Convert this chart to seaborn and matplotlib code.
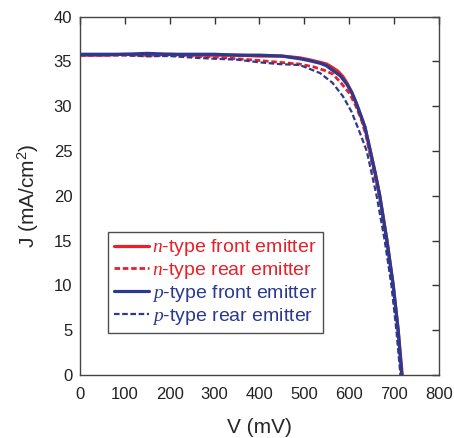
import matplotlib
matplotlib.use("Agg")
import matplotlib.pyplot as plt
import seaborn as sns
import pandas as pd

# J-V curves (V in mV, J in mA/cm2)
v_n_front = [0, 50, 100, 150, 200, 250, 300, 350, 400, 450, 490, 510, 535, 550, 563, 575, 586, 596, 606, 616, 625, 635, 647, 658, 668, 684, 698, 709, 718]
j_n_front = [35.7, 35.7, 35.8, 35.7, 35.8, 35.7, 35.7, 35.7, 35.6, 35.6, 35.4, 35.2, 34.9, 34.7, 34.3, 33.9, 33.3, 32.5, 31.5, 30.3, 29.0, 27.6, 25.0, 22.5, 20.0, 15.0, 10.0, 5.0, 0]

v_n_rear = [0, 50, 100, 150, 200, 250, 300, 350, 400, 445, 490, 520, 545, 563, 580, 601, 615, 627, 637, 646, 657, 667, 682, 696, 707, 716]
j_n_rear = [35.7, 35.7, 35.7, 35.6, 35.7, 35.6, 35.5, 35.3, 35.1, 34.9, 34.7, 34.4, 34.0, 33.6, 32.7, 31.4, 30.0, 28.5, 26.8, 24.7, 22.2, 20.0, 15.0, 10.0, 5.0, 0]

v_p_front = [0, 50, 100, 150, 200, 250, 300, 350, 400, 450, 490, 510, 535, 550, 563, 580, 594, 605, 616, 625, 635, 647, 658, 668, 684, 698, 709, 717]
j_p_front = [35.8, 35.8, 35.8, 35.9, 35.8, 35.8, 35.8, 35.7, 35.7, 35.6, 35.3, 35.1, 34.8, 34.5, 34.0, 33.4, 32.5, 31.6, 30.3, 29.1, 27.7, 25.0, 22.5, 20.0, 15.0, 10.0, 5.0, 0]

v_p_rear = [0, 50, 100, 150, 200, 260, 300, 350, 400, 445, 490, 535, 563, 586, 605, 624, 639, 650, 661, 679, 694, 705, 714]
j_p_rear = [35.7, 35.7, 35.7, 35.6, 35.6, 35.4, 35.3, 35.2, 34.9, 34.7, 34.6, 33.7, 32.6, 31.1, 29.4, 27.0, 25.0, 22.5, 20.0, 15.0, 10.0, 5.0, 0]

labels = [r"$n$-type front emitter", r"$n$-type rear emitter",
          r"$p$-type front emitter", r"$p$-type rear emitter"]

red = "#e8202a"
blue = "#2b3990"

sns.set_style("white")
plt.rcParams["font.family"] = ["Liberation Sans", "DejaVu Sans"]
plt.rcParams["mathtext.fontset"] = "custom"
plt.rcParams["mathtext.it"] = "Liberation Serif:italic"
plt.rcParams["mathtext.rm"] = "Liberation Sans"

fig = plt.figure(figsize=(4.54, 4.38), dpi=100)
ax = fig.add_axes([0.176, 0.144, 0.791, 0.818])

series = [
    (v_n_front, j_n_front, labels[0], red, "-", 2.3),
    (v_n_rear, j_n_rear, labels[1], red, (0, (2, 1)), 2.0),
    (v_p_front, j_p_front, labels[2], blue, "-", 2.3),
    (v_p_rear, j_p_rear, labels[3], blue, (0, (2.5, 1.2)), 1.6),
]
for v, j, lab, col, ls, lw in series:
    df = pd.DataFrame({"V": v, "J": j})
    sns.lineplot(data=df, x="V", y="J", ax=ax, color=col, linestyle=ls,
                 linewidth=lw, label=lab, sort=False, estimator=None)

ax.set_xlim(0, 800)
ax.set_ylim(0, 40)
ax.set_xticks(range(0, 801, 100))
ax.set_yticks(range(0, 41, 5))
ax.set_xlabel("V (mV)", fontsize=15, labelpad=11)
ax.set_ylabel(r"J (mA/cm$^2$)", fontsize=15, labelpad=9)
ax.tick_params(direction="in", length=5, width=1, labelsize=12,
               top=True, right=True, colors="#333333", labelcolor="#222222")
ax.tick_params(axis="x", pad=9)
ax.tick_params(axis="y", pad=5.5)
for s in ax.spines.values():
    s.set_color("#444444")
    s.set_linewidth(1.0)

leg = ax.legend(loc="lower left", bbox_to_anchor=(0.079, 0.117), fontsize=14,
                frameon=True, fancybox=False, edgecolor="#222222",
                handlelength=1.8, handletextpad=0.15, labelspacing=0.1,
                borderpad=0.3, borderaxespad=0, labelcolor="linecolor")
leg.get_frame().set_linewidth(1.0)

fig.savefig("out.png", dpi=100)
